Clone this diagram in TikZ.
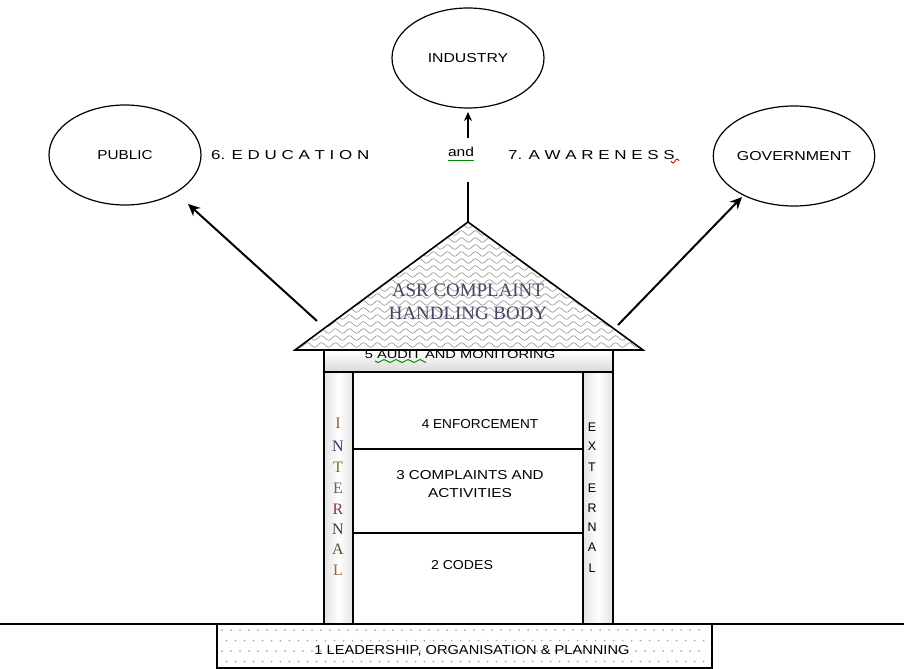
\documentclass[tikz,border=0pt]{standalone}
\usepackage{fontspec}
\setmainfont{Liberation Serif}
\setsansfont{Liberation Sans}
\usetikzlibrary{arrows.meta,shapes.geometric}
\newcommand{\widetxt}[2][1.3]{\scalebox{#1}[1]{#2}}
\definecolor{asrcol}{RGB}{70,70,95}
\begin{document}
\begin{tikzpicture}[x=1bp,y=-1bp,
  lab/.style={font=\sffamily\fontsize{13}{15}\selectfont, inner sep=0pt},
  small/.style={font=\sffamily\fontsize{11.5}{13}\selectfont, inner sep=0pt},
  circ/.style={draw, ellipse, line width=1.2bp, minimum width=152bp, minimum height=100bp, inner sep=0pt,
    font=\sffamily\fontsize{13}{15}\selectfont},
  arr/.style={line width=2bp, -{Stealth[length=12bp,width=11bp]}},
  thinln/.style={line width=1.4bp},
  thickln/.style={line width=2.6bp},
  serifl/.style={font=\fontsize{16}{18}\selectfont, inner sep=0pt},
  sansl/.style={font=\sffamily\fontsize{12.5}{14}\selectfont, inner sep=0pt},
]
\useasboundingbox (0,0) rectangle (904,669);

% ellipses
\node[circ] (ind) at (468,58) {\widetxt[1.22]{INDUSTRY}};
\node[circ] (pub) at (125,155) {\widetxt[1.18]{PUBLIC}};
\node[circ, minimum width=154bp] (gov) at (794,156) {\widetxt[1.23]{GOVERNMENT}};

% labels between
\node[lab, anchor=west] (edu) at (211,155) {\widetxt[1.31]{6. E D U C A T I O N}};
\node[lab] (and) at (461,152) {\widetxt[1.2]{and}};
\node[lab, anchor=west] (awa) at (508,155) {\widetxt[1.31]{7. A W A R E N E S S}};
\draw[green!55!black, line width=0.9bp] (448,160) -- (474,160);
\draw[red!80!black, line width=0.9bp] (671,161) sin (673,163) cos (675,161) sin (677,159) cos (679,161);

% roof
\coordinate (apex) at (468,222);
\coordinate (rl) at (295,350);
\coordinate (rr) at (643,350);
\fill[white] (apex) -- (rl) -- (rr) -- cycle;
\begin{scope}
  \clip (apex) -- (rl) -- (rr) -- cycle;
  \foreach \r in {0,...,18}{
    \draw[gray!75, line width=0.7bp] (290,{226+7*\r})
      \foreach \k in {1,...,26}{ sin ++(3.5,-2.3) cos ++(3.5,2.3) sin ++(3.5,2.3) cos ++(3.5,-2.3)};
  }
\end{scope}
\draw[line width=1.6bp] (apex) -- (rl) -- (rr) -- cycle;
\node[font=\fontsize{19}{23}\selectfont, text=asrcol, align=center, inner sep=0pt] (asr) at (468,302)
  {ASR COMPLAINT\\HANDLING BODY};

% mast and arrows
\coordinate (mast) at (468,182);
\draw[thickln] (apex) -- (mast);
\coordinate (ua) at (468,138);
\coordinate (ub) at (468,112);
\draw[line width=1.6bp, -{Stealth[length=9bp,width=8bp]}] (ua) -- (ub);
\coordinate (ls) at (317,321);
\coordinate (lt) at (188,204);
\draw[arr] (ls) -- (lt);
\coordinate (rs) at (618,325);
\coordinate (rt) at (742,197);
\draw[arr] (rs) -- (rt);

% band 5
\shade[top color=white, bottom color=gray!30] (324,351) rectangle (613,372);
\node[small] (audit) at (460,355) {\widetxt[1.28]{5 AUDIT AND MONITORING}};
\draw[green!55!black, line width=0.9bp] (375,361) sin (378,362.5) cos (381,361) sin (384,359.5) cos (387,361)
  sin (390,362.5) cos (393,361) sin (396,359.5) cos (399,361) sin (402,362.5) cos (405,361)
  sin (408,359.5) cos (411,361) sin (414,362.5) cos (417,361) sin (420,359.5) cos (423,361) sin (426,362.5);

% pillars
\shade[left color=gray!22, right color=gray!22, middle color=white] (324,372) rectangle (353,624);
\shade[left color=gray!22, right color=gray!22, middle color=white] (583,372) rectangle (613,624);

% body lines
\draw[thinln] (324,350) -- (324,624);
\draw[thickln] (353,372) -- (353,624);
\draw[thinln] (583,372) -- (583,624);
\draw[thickln] (613,350) -- (613,624);
\draw[thickln] (323,372) -- (614,372);
\draw[thinln] (353,449) -- (583,449);
\draw[thinln] (353,533) -- (583,533);

% body labels
\node[lab] (enf) at (480,424) {\widetxt[1.05]{4 ENFORCEMENT}};
\node[lab] (comp) at (470,475) {\widetxt[1.17]{3 COMPLAINTS AND}};
\node[lab] (act) at (470,493) {\widetxt[1.19]{ACTIVITIES}};
\node[lab] (codes) at (462,565) {\widetxt[1.09]{2 CODES}};

% INTERNAL
\node[serifl, text={rgb,255:red,150;green,95;blue,40}] (i1) at (338,423) {I};
\node[serifl, text={rgb,255:red,40;green,55;blue,100}] (i2) at (338,446) {N};
\node[serifl, text={rgb,255:red,130;green,110;blue,45}] (i3) at (338,467) {T};
\node[serifl, text={rgb,255:red,100;green,100;blue,115}] (i4) at (338,488) {E};
\node[serifl, text={rgb,255:red,120;green,60;blue,60}] (i5) at (338,509) {R};
\node[serifl, text={rgb,255:red,40;green,55;blue,100}] (i6) at (338,529) {N};
\node[serifl, text={rgb,255:red,95;green,75;blue,55}] (i7) at (338,549) {A};
\node[serifl, text={rgb,255:red,160;green,105;blue,55}] (i8) at (338,570) {L};

% EXTERNAL
\node[sansl] (e1) at (592,427) {E};
\node[sansl] (e2) at (592,446) {X};
\node[sansl] (e3) at (592,467) {T};
\node[sansl] (e4) at (592,488) {E};
\node[sansl] (e5) at (592,508) {R};
\node[sansl] (e6) at (592,527) {N};
\node[sansl] (e7) at (592,547) {A};
\node[sansl] (e8) at (592,568) {L};

% ground and foundation
\draw[line width=1.2bp] (0,624) -- (904,624);
\foreach \i in {0,...,53}{
  \foreach \j in {0,1,2,3}{
    \fill[gray!65] ({222+9*\i+4.5*mod(\j,2)},{630+10.5*\j}) circle (1bp);
  }
}
\draw[line width=1.2bp] (217,624) rectangle (712,668);
\node[lab] (lead) at (472,651) {\widetxt[1.13]{1 LEADERSHIP, ORGANISATION \& PLANNING}};
\end{tikzpicture}
\end{document}
